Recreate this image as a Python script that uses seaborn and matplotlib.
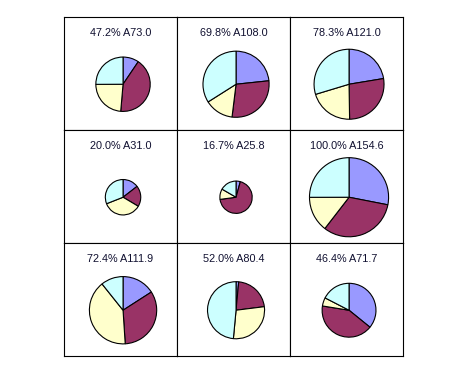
import numpy as np
import seaborn as sns
import matplotlib
matplotlib.use("Agg")
import matplotlib.pyplot as plt

# data: each pie = 4 segments (blue, maroon, yellow, cyan), clockwise from 12 o'clock
totals = [73.0, 108.0, 121.0, 31.0, 25.8, 154.6, 111.9, 80.4, 71.7]
percents = [47.2, 69.8, 78.3, 20.0, 16.7, 100.0, 72.4, 52.0, 46.4]
seg_blue = [6.9, 25.2, 27.1, 4.5, 1.1, 43.4, 17.8, 1.2, 25.7]
seg_maroon = [30.6, 30.9, 33.1, 5.9, 17.7, 50.1, 37.0, 17.3, 29.9]
seg_yellow = [17.2, 15.2, 24.9, 11.0, 2.7, 22.4, 45.1, 22.9, 3.6]
seg_cyan = [18.3, 36.7, 35.9, 9.6, 4.3, 38.7, 12.0, 39.0, 12.5]

sns.set_style('white')
plt.rcParams['font.family'] = ['Liberation Sans', 'DejaVu Sans']
colors = sns.color_palette(['#9999FF', '#993366', '#FFFFCC', '#CCFFFF'])

fig = plt.figure(figsize=(4.51, 3.77), dpi=100)
gs = fig.add_gridspec(3, 3, left=64/451, right=403/451, top=1-17/377, bottom=1-356/377,
                      wspace=0, hspace=0)

max_total = max(totals)
for i in range(9):
    ax = fig.add_subplot(gs[i // 3, i % 3])
    vals = [seg_blue[i], seg_maroon[i], seg_yellow[i], seg_cyan[i]]
    r = 0.70 * np.sqrt(totals[i] / max_total)
    ax.pie(vals, colors=colors, startangle=90, counterclock=False, radius=r,
           center=(0.045, -0.19),
           wedgeprops=dict(edgecolor='black', linewidth=0.8))
    ax.set_xlim(-1, 1)
    ax.set_ylim(-1, 1)
    ax.set_aspect('auto')
    ax.set_xticks([])
    ax.set_yticks([])
    ax.set_frame_on(True)
    for s in ax.spines.values():
        s.set_visible(True)
        s.set_color('black')
        s.set_linewidth(0.8)
    ax.text(0.5, 0.857, f"{percents[i]:.1f}% A{totals[i]:.1f}", transform=ax.transAxes,
            ha='center', va='center', fontsize=7.8, color='#101030')

fig.savefig("out.png", dpi=100, facecolor='white')
